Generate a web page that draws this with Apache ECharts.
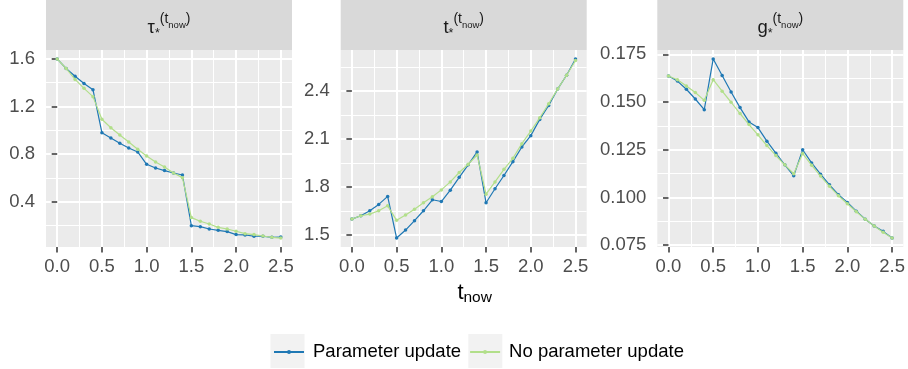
<!DOCTYPE html>
<html><head><meta charset="utf-8">
<script src="https://cdn.jsdelivr.net/npm/echarts@6/dist/echarts.min.js"></script>
<style>html,body{margin:0;padding:0;background:#fff}#c{width:908px;height:369px}</style>
</head><body><div id="c"></div>
<script>
// ---- data ----
const tnow = [0.0,0.1,0.2,0.3,0.4,0.5,0.6,0.7,0.8,0.9,1.0,1.1,1.2,1.3,1.4,1.5,1.6,1.7,1.8,1.9,2.0,2.1,2.2,2.3,2.4,2.5];
const seriesNames = ['Parameter update','No parameter update'];
const tauUpdate   = [1.600,1.520,1.454,1.393,1.342,0.980,0.936,0.891,0.851,0.818,0.714,0.683,0.661,0.641,0.624,0.198,0.190,0.170,0.159,0.148,0.123,0.120,0.109,0.109,0.100,0.103];
const tauNoUpdate = [1.600,1.520,1.428,1.353,1.283,1.093,1.022,0.961,0.902,0.840,0.784,0.734,0.692,0.641,0.602,0.266,0.235,0.212,0.184,0.170,0.151,0.131,0.123,0.111,0.100,0.094];
const tUpdate     = [1.598,1.619,1.650,1.690,1.740,1.479,1.529,1.588,1.650,1.719,1.708,1.779,1.860,1.938,2.019,1.700,1.788,1.871,1.958,2.050,2.121,2.223,2.310,2.413,2.500,2.602];
const tNoUpdate   = [1.598,1.619,1.629,1.650,1.681,1.590,1.623,1.660,1.700,1.738,1.781,1.831,1.890,1.942,2.000,1.754,1.831,1.910,1.979,2.071,2.150,2.233,2.321,2.413,2.500,2.592];
const gUpdate     = [0.1637,0.1610,0.1567,0.1516,0.1460,0.1726,0.1639,0.1553,0.1471,0.1396,0.1366,0.1295,0.1232,0.1171,0.1113,0.1250,0.1181,0.1122,0.1066,0.1014,0.0974,0.0928,0.0886,0.0850,0.0822,0.0787];
const gNoUpdate   = [0.1637,0.1617,0.1584,0.1550,0.1509,0.1617,0.1557,0.1499,0.1440,0.1382,0.1328,0.1272,0.1220,0.1171,0.1124,0.1230,0.1169,0.1112,0.1058,0.1009,0.0967,0.0925,0.0885,0.0850,0.0818,0.0787];
// ---- tick labels ----
const xTicks = [0,0.5,1,1.5,2,2.5];
const xMinor = [0.25,0.75,1.25,1.75,2.25];
const tauTicks = [0.4,0.8,1.2,1.6];
const tauMinor = [0.2,0.6,1.0,1.4];
const tTicks = [1.5,1.8,2.1,2.4];
const tMinor = [1.65,1.95,2.25,2.55];
const gTicks = [0.075,0.100,0.125,0.150,0.175];
const gMinor = [0.0875,0.1125,0.1375,0.1625];

// ---- layout / style ----
const FONT = '"Liberation Sans", Arial, Helvetica, sans-serif';
const colors = ['#1F78B4','#B2DF8A'];
const panelLeft = [46, 340.7, 657.3], panelW = 246, panelTop = 50, panelH = 197, stripH = 50;
const TICK_FS = 18.5;

const panels = [
  {up: tauUpdate, no: tauNoUpdate, ticks: tauTicks, minor: tauMinor, dec: 1, base: 'τ'},
  {up: tUpdate,   no: tNoUpdate,   ticks: tTicks,   minor: tMinor,   dec: 1, base: 't'},
  {up: gUpdate,   no: gNoUpdate,   ticks: gTicks,   minor: gMinor,   dec: 3, base: 'g'}
];

function extent(arr, frac){
  const lo = Math.min.apply(null, arr), hi = Math.max.apply(null, arr);
  const pad = (hi - lo) * frac;
  return [lo - pad, hi + pad];
}
const xExt = extent(tnow, 0.05);

const grid = [], xAxis = [], yAxis = [], series = [], graphic = [];
panels.forEach((p, i) => {
  grid.push({left: panelLeft[i], top: panelTop, width: panelW, height: panelH,
    show: true, backgroundColor: '#EBEBEB', borderWidth: 0, containLabel: false});
  const yExt = extent(p.up.concat(p.no), 0.05);
  xAxis.push({type: 'value', gridIndex: i, min: xExt[0], max: xExt[1],
    axisLine: {show: false},
    axisTick: {show: true, length: 5.5, customValues: xTicks, lineStyle: {color: '#333333', width: 1.5}},
    axisLabel: {show: true, customValues: xTicks, margin: 10, color: '#4D4D4D', fontSize: TICK_FS, fontFamily: FONT,
      formatter: v => Number(v).toFixed(1)},
    splitLine: {show: true, lineStyle: {color: '#FFFFFF', width: 2}}
  });
  xAxis.push({type: 'value', gridIndex: i, min: xExt[0], max: xExt[1],
    axisLine: {show: false}, axisLabel: {show: false},
    axisTick: {show: false, customValues: xMinor},
    splitLine: {show: true, lineStyle: {color: '#FFFFFF', width: 1}}
  });
  yAxis.push({type: 'value', gridIndex: i, min: yExt[0], max: yExt[1],
    axisLine: {show: false},
    axisTick: {show: true, length: 5.5, customValues: p.ticks, lineStyle: {color: '#333333', width: 1.5}},
    axisLabel: {show: true, customValues: p.ticks, margin: 11, color: '#4D4D4D', fontSize: TICK_FS, fontFamily: FONT,
      formatter: v => Number(v).toFixed(p.dec)},
    splitLine: {show: true, lineStyle: {color: '#FFFFFF', width: 2}}
  });
  yAxis.push({type: 'value', gridIndex: i, min: yExt[0], max: yExt[1],
    axisLine: {show: false}, axisLabel: {show: false},
    axisTick: {show: false, customValues: p.minor},
    splitLine: {show: true, lineStyle: {color: '#FFFFFF', width: 1}}
  });
  [p.up, p.no].forEach((vals, k) => {
    series.push({type: 'line', name: seriesNames[k], xAxisIndex: 2*i, yAxisIndex: 2*i,
      data: tnow.map((t, j) => [t, vals[j]]),
      symbol: 'circle', symbolSize: 3.5, showSymbol: true,
      lineStyle: {color: colors[k], width: 1.2}, itemStyle: {color: colors[k]},
      emphasis: {disabled: true}, z: 3 + k});
  });
  graphic.push({type: 'rect', z: 0, shape: {x: panelLeft[i], y: 0, width: panelW, height: stripH},
    style: {fill: '#D9D9D9'}, silent: true});
  graphic.push({type: 'text', z: 1, silent: true, style: {
    x: panelLeft[i] + panelW/2, y: 0, align: 'center', verticalAlign: 'top',
    text: '{b|' + p.base + '}{s|*}{p|(t}{q|now}{p|)}',
    rich: {
      b: {fontSize: 18.5, fontFamily: FONT, fill: '#1A1A1A', verticalAlign: 'top', padding: [18, 0, 0, 0], lineHeight: 40},
      s: {fontSize: 12.5, fontFamily: FONT, fill: '#1A1A1A', verticalAlign: 'top', padding: [27, 0, 0, 0], lineHeight: 40},
      p: {fontSize: 14, fontFamily: FONT, fill: '#1A1A1A', verticalAlign: 'top', padding: [12, 0, 0, 0], lineHeight: 40},
      q: {fontSize: 9.5, fontFamily: FONT, fill: '#1A1A1A', verticalAlign: 'top', padding: [20, 0, 0, 0], lineHeight: 40}
    }}});
});

graphic.push({type: 'text', silent: true, style: {
  x: (panelLeft[0] + panelLeft[2] + panelW) / 2, y: 270, align: 'center', verticalAlign: 'top',
  text: '{t|t}{n|now}',
  rich: {
    t: {fontSize: 22, fontFamily: FONT, fill: '#000', verticalAlign: 'top', padding: [12, 0, 0, 0], lineHeight: 40},
    n: {fontSize: 15.5, fontFamily: FONT, fill: '#000', verticalAlign: 'top', padding: [20, 0, 0, 0], lineHeight: 40}
  }}});
[270.5, 468.3].forEach(x => graphic.push({type: 'rect', z: 0, silent: true,
  shape: {x: x, y: 334, width: 34, height: 34}, style: {fill: '#F2F2F2'}}));

const chart = echarts.init(document.getElementById('c'));
chart.setOption({
  animation: false,
  grid, xAxis, yAxis, series, graphic,
  legend: {data: seriesNames, left: 273, top: 342.5, padding: 0, itemWidth: 30, itemHeight: 5, itemGap: 8,
    selectedMode: false, z: 5,
    textStyle: {fontSize: 18.5, color: '#000', fontFamily: FONT, padding: [0, 0, 0, 4]}}
});
</script></body></html>
